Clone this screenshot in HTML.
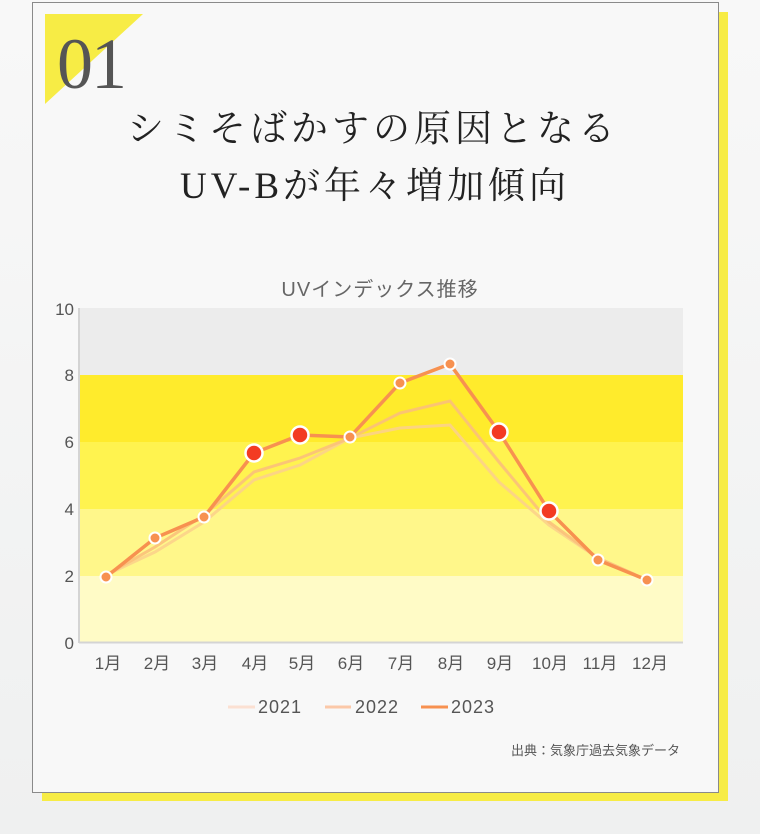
<!DOCTYPE html>
<html><head><meta charset="utf-8"><style>
html,body{margin:0;padding:0;background:#f4f5f5;}
svg{display:block}
</style></head><body>
<svg width="760" height="834" viewBox="0 0 760 834" xmlns="http://www.w3.org/2000/svg">
<defs><linearGradient id="bg" x1="0" y1="0" x2="0" y2="1"><stop offset="0" stop-color="#f8f8f8"/><stop offset="1" stop-color="#eff0f0"/></linearGradient></defs>
<rect width="760" height="834" fill="url(#bg)"/>
<rect x="42" y="12" width="686" height="789" fill="#f7ec45"/>
<rect x="32.5" y="2.5" width="686" height="790" fill="#f8f8f8" stroke="#8a8a8a" stroke-width="1"/>
<polygon points="45,14 143,14 45,104" fill="#f7ec45"/>
<text x="57" y="88" font-family="Liberation Serif, serif" font-size="72" fill="#555" letter-spacing="-2">01</text>
<g font-family="'Liberation Serif','Noto Serif CJK SC',serif" font-size="37" fill="#222" text-anchor="middle" letter-spacing="4">
<text x="373" y="141">シミそばかすの原因となる</text>
<text x="375" y="198">UV-Bが年々増加傾向</text>
</g>
<text x="380" y="296" text-anchor="middle" font-family="'Liberation Sans','Noto Sans CJK JP',sans-serif" font-size="20" fill="#666" letter-spacing="1">UVインデックス推移</text>
<rect x="80" y="308" width="603" height="67" fill="#ececec"/>
<rect x="80" y="375" width="603" height="67" fill="#ffeb2c"/>
<rect x="80" y="442" width="603" height="67" fill="#fff34f"/>
<rect x="80" y="509" width="603" height="67" fill="#fff78a"/>
<rect x="80" y="576" width="603" height="66" fill="#fffbc6"/>
<line x1="79" y1="308" x2="79" y2="643" stroke="#d4d4d4" stroke-width="2"/>
<line x1="79" y1="642.5" x2="683" y2="642.5" stroke="#d4d4d4" stroke-width="2"/>
<g font-family="'Liberation Sans',sans-serif" font-size="17" fill="#555" text-anchor="end">
<text x="74" y="315">10</text><text x="74" y="381">8</text><text x="74" y="448">6</text><text x="74" y="515">4</text><text x="74" y="582">2</text><text x="74" y="649">0</text>
</g>
<g font-family="'Liberation Sans','Noto Sans CJK JP',sans-serif" font-size="17" fill="#555" text-anchor="middle">
<text x="108" y="669">1月</text><text x="157" y="669">2月</text><text x="205" y="669">3月</text><text x="255" y="669">4月</text><text x="302" y="669">5月</text><text x="351" y="669">6月</text><text x="401" y="669">7月</text><text x="451" y="669">8月</text><text x="500" y="669">9月</text><text x="550" y="669">10月</text><text x="600" y="669">11月</text><text x="650" y="669">12月</text>
</g>
<polyline fill="none" stroke="#fcd28a" stroke-width="3" opacity="0.9" points="106,575 155,552 204,522 254,480 300,465 350,438 400,428 450,425 499,482 549,525 598,558 647,580"/>
<polyline fill="none" stroke="#fbc07a" stroke-width="3" opacity="0.9" points="106,575 155,547 204,515 254,472 300,458 350,438 400,413 450,401 499,462 549,522 598,558 647,580"/>
<polyline fill="none" stroke="#f79150" stroke-width="3.5" points="106,577 155,538 204,517 254,453 300,435 350,437 400,383 450,364 499,432 549,511 598,560 647,580"/>
<g stroke="#fff" stroke-width="2" fill="#f79150">
<circle cx="106" cy="577" r="5.5"/><circle cx="155" cy="538" r="5.5"/><circle cx="204" cy="517" r="5.5"/><circle cx="350" cy="437" r="5.5"/><circle cx="400" cy="383" r="5.5"/><circle cx="450" cy="364" r="5.5"/><circle cx="598" cy="560" r="5.5"/><circle cx="647" cy="580" r="5.5"/>
</g>
<g stroke="#fff" stroke-width="2.5" fill="#f33b22">
<circle cx="254" cy="453" r="8.5"/><circle cx="300" cy="435" r="8.5"/><circle cx="499" cy="432" r="8.5"/><circle cx="549" cy="511" r="8.5"/>
</g>
<g stroke-width="3">
<line x1="228" y1="707" x2="255" y2="707" stroke="#fbe0d2"/>
<line x1="325" y1="707" x2="351" y2="707" stroke="#fbc8a8"/>
<line x1="421" y1="707" x2="448" y2="707" stroke="#f79150"/>
</g>
<g font-family="'Liberation Sans',sans-serif" font-size="18" fill="#555" letter-spacing="1">
<text x="258" y="713">2021</text><text x="355" y="713">2022</text><text x="451" y="713">2023</text>
</g>
<text x="680" y="755" text-anchor="end" font-family="'Liberation Sans','Noto Sans CJK JP',sans-serif" font-size="13" fill="#555">出典：気象庁過去気象データ</text>
</svg>
</body></html>
